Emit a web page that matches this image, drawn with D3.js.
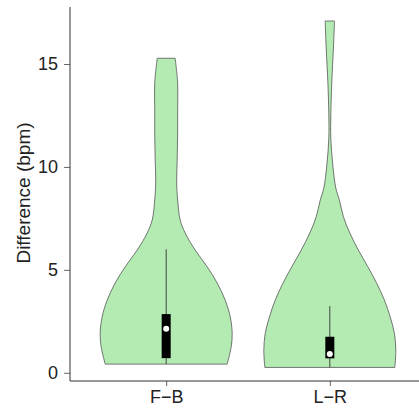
<!DOCTYPE html>
<html>
<head>
<meta charset="utf-8">
<script src="https://cdn.jsdelivr.net/npm/d3@7"></script>
<style>
  body { margin: 0; background: #fff; }
  svg text { font-family: "Liberation Sans", Arial, sans-serif; }
</style>
</head>
<body>
<div id="chart"></div>
<script>
// categories
var groups = ["F−B", "L−R"];

// violin outline: value grid and relative density
var fbValues  = [0.42, 1.26, 1.93, 2.72, 3.53, 4.36, 5.15, 5.96, 6.79, 7.42, 8.39, 9.22, 10.4, 11.65, 12.9, 14.08, 15.28];
var fbDensity = [0.924, 0.985, 1, 0.970, 0.894, 0.773, 0.621, 0.439, 0.288, 0.212, 0.174, 0.159, 0.167, 0.174, 0.174, 0.174, 0.136];
var lrValues  = [0.26, 1.10, 1.91, 2.72, 3.53, 4.34, 5.15, 5.96, 6.79, 7.58, 8.39, 8.97, 10.09, 11.40, 12.52, 14.14, 15.78, 17.09];
var lrDensity = [0.985, 1, 0.979, 0.914, 0.827, 0.712, 0.576, 0.433, 0.303, 0.206, 0.145, 0.091, 0.045, 0.015, 0.015, 0.030, 0.055, 0.071];

// box summaries: [whisker low, q1, median, q3, whisker high]
var fbBox = [0.42, 0.71, 2.14, 2.85, 6.0];
var lrBox = [0.26, 0.70, 0.91, 1.75, 3.24];

var yTicks = [0, 5, 10, 15];

var width = 419, height = 409;

var svg = d3.select("#chart").append("svg")
    .attr("width", width)
    .attr("height", height);

var x = d3.scalePoint()
    .domain(groups)
    .range([68, 428])
    .padding(0.6);

var y = d3.scaleLinear()
    .domain([-0.40, 17.77])
    .range([381, 7]);

var w = d3.scaleLinear().domain([0, 1]).range([0, 66]);

var violins = [
  {g: groups[0], v: fbValues, d: fbDensity, box: fbBox},
  {g: groups[1], v: lrValues, d: lrDensity, box: lrBox}
];

violins.forEach(function(vi) {
  var cx = x(vi.g);
  var pts = vi.v.map(function(v, i) { return {v: v, d: vi.d[i]}; });

  var area = d3.area()
      .y(function(d) { return y(d.v); })
      .x0(function(d) { return cx - w(d.d); })
      .x1(function(d) { return cx + w(d.d); })
      .curve(d3.curveCatmullRom);

  svg.append("path")
     .datum(pts)
     .attr("d", area)
     .attr("fill", "#b3ebb3")
     .attr("stroke", "#555")
     .attr("stroke-width", 0.8);

  // whisker
  svg.append("line")
     .attr("x1", cx).attr("x2", cx)
     .attr("y1", y(vi.box[0])).attr("y2", y(vi.box[4]))
     .attr("stroke", "#444")
     .attr("stroke-width", 1);

  // box
  svg.append("rect")
     .attr("x", cx - 4.5)
     .attr("width", 9)
     .attr("y", y(vi.box[3]))
     .attr("height", y(vi.box[1]) - y(vi.box[3]))
     .attr("fill", "#000");

  // median
  svg.append("circle")
     .attr("cx", cx)
     .attr("cy", y(vi.box[2]))
     .attr("r", 3)
     .attr("fill", "#fff");
});

// y axis
var yAxis = d3.axisLeft(y).tickValues(yTicks).tickSize(6).tickPadding(6);
var gy = svg.append("g")
    .attr("transform", "translate(70,0)")
    .call(yAxis);
gy.select(".domain").remove();
gy.selectAll(".tick line").attr("stroke", "#666");
gy.selectAll(".tick text").attr("fill", "#222").style("font-size", "18px");
svg.append("line")
   .attr("x1", 70).attr("x2", 70)
   .attr("y1", y.range()[1]).attr("y2", y.range()[0])
   .attr("stroke", "#333");

// x axis
var xAxis = d3.axisBottom(x).tickSize(5).tickPadding(4);
var gx = svg.append("g")
    .attr("transform", "translate(0,381)")
    .call(xAxis);
gx.select(".domain").remove();
gx.selectAll(".tick line").attr("stroke", "#666");
gx.selectAll(".tick text").attr("fill", "#222").style("font-size", "18px");
svg.append("line")
   .attr("x1", 70).attr("x2", 428)
   .attr("y1", 381).attr("y2", 381)
   .attr("stroke", "#333");

svg.append("text")
   .attr("transform", "translate(30,193) rotate(-90)")
   .attr("text-anchor", "middle")
   .attr("fill", "#222")
   .style("font-size", "19px")
   .text("Difference (bpm)");
</script>
</body>
</html>
